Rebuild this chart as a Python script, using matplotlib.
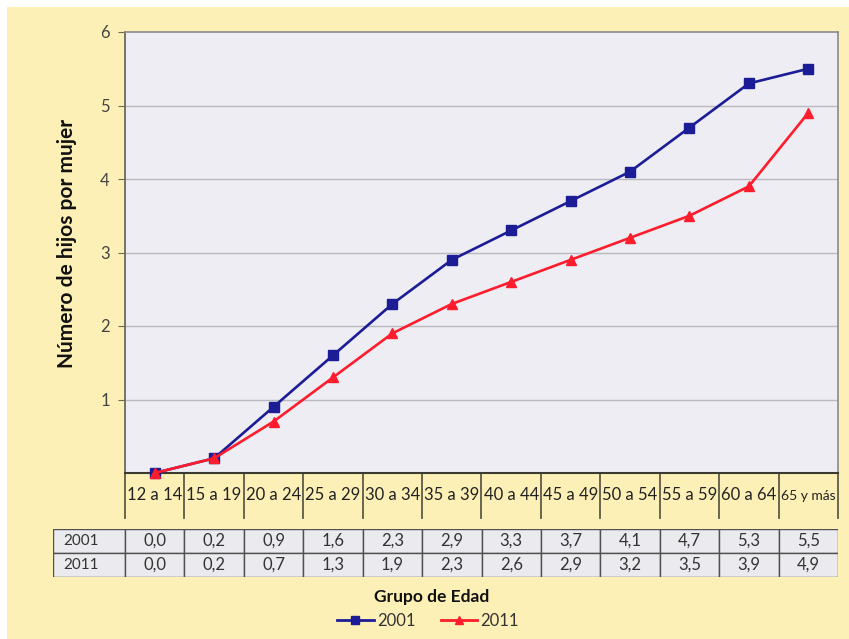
import matplotlib
matplotlib.use("Agg")
import matplotlib.pyplot as plt
from matplotlib.patches import Rectangle
from matplotlib.lines import Line2D

categories = ["12 a 14", "15 a 19", "20 a 24", "25 a 29", "30 a 34", "35 a 39",
              "40 a 44", "45 a 49", "50 a 54", "55 a 59", "60 a 64", "65 y más"]
series_names = ["2001", "2011"]
values_2001 = [0.0, 0.2, 0.9, 1.6, 2.3, 2.9, 3.3, 3.7, 4.1, 4.7, 5.3, 5.5]
values_2011 = [0.0, 0.2, 0.7, 1.3, 1.9, 2.3, 2.6, 2.9, 3.2, 3.5, 3.9, 4.9]
yticks = [1, 2, 3, 4, 5, 6]

plt.rcParams['font.family'] = ['Lato', 'DejaVu Sans']

W, H = 849, 639
fig = plt.figure(figsize=(W / 100, H / 100), dpi=100)
fig.patch.set_facecolor("#ffffff")
# yellow panel
fig.patches.append(Rectangle((7 / W, 0), 1 - 7 / W, 1 - 7 / H, transform=fig.transFigure,
                             facecolor="#fcf0b6", edgecolor="none", zorder=-10))

plotbg = "#ededf3"
spine_c = "#6e6a58"
c2001 = "#1c1c96"
c2011 = "#ff1c2c"

x0, x1 = 125, 838
ax = fig.add_axes([x0 / W, 1 - 473 / H, (x1 - x0) / W, (473 - 32) / H])
ax.set_facecolor(plotbg)
n = len(categories)
xs = list(range(n))
ax.set_xlim(-0.5, n - 0.5)
ax.set_ylim(0, 6)

ax.plot(xs, values_2001, color=c2001, lw=1.9, marker="s", ms=6.5, zorder=4, clip_on=False)
ax.plot(xs, values_2011, color=c2011, lw=1.9, marker="^", ms=7, zorder=5, clip_on=False)

ax.set_yticks(yticks)
ax.set_yticklabels([str(t) for t in yticks], fontsize=12, color="#444444")
ax.tick_params(axis="y", length=5, color=spine_c, pad=6)
ax.set_xticks([])
for v in yticks[:-1]:
    ax.axhline(v, color="#b9b9bd", lw=1, zorder=1)
for s in ["top", "right"]:
    ax.spines[s].set_color("#8a8a8a")
    ax.spines[s].set_linewidth(1.2)
ax.spines["left"].set_color(spine_c)
ax.spines["left"].set_linewidth(1.3)
ax.spines["bottom"].set_color("#3a3a30")
ax.spines["bottom"].set_linewidth(1.5)
ax.set_ylabel("Número de hijos por mujer", fontsize=15, fontweight="bold",
              color="#111111")
ax.yaxis.set_label_coords((77 - x0) / (x1 - x0), (473 - 243) / (473 - 32))

# category boxes below the axis
tr = ax.get_xaxis_transform()
box_h = (518 - 473) / (473 - 32)
for i in range(n + 1):
    ax.add_line(Line2D([i - 0.5, i - 0.5], [0, -box_h], transform=tr, color="#5e5a48",
                       lw=1.3, clip_on=False))
for i, c in enumerate(categories):
    fs = 10 if c == "65 y más" else 12
    ax.text(i, -0.5 * box_h, c, transform=tr, ha="center", va="center",
            fontsize=fs, color="#222222", clip_on=False)

# data table
tx0 = 53
tax = fig.add_axes([tx0 / W, 1 - 577 / H, (x1 - tx0) / W, (577 - 529) / H])
tax.set_xlim(tx0, x1)
tax.set_ylim(0, 2)
tax.axis("off")
col_w = (x1 - x0) / n
rows = [values_2001, values_2011]
for r, (name, vals) in enumerate(zip(series_names, rows)):
    yb = 1 - r
    tax.add_patch(Rectangle((tx0, yb), x0 - tx0, 1, facecolor="#ebebef",
                            edgecolor="#505050", lw=1))
    tax.text(tx0 + 10, yb + 0.5, name, ha="left", va="center", fontsize=11, color="#333333")
    for i, v in enumerate(vals):
        xl = x0 + i * col_w
        tax.add_patch(Rectangle((xl, yb), col_w, 1, facecolor="#ebebef",
                                edgecolor="#505050", lw=1))
        tax.text(xl + col_w / 2, yb + 0.5, f"{v:.1f}".replace(".", ","), ha="center",
                 va="center", fontsize=12, color="#333333")

fig.text(432 / W, 1 - 597 / H, "Grupo de Edad", ha="center", va="center",
         fontsize=12.5, fontweight="bold", color="#111111")

handles = [Line2D([], [], color=c2001, lw=2, marker="s", ms=6),
           Line2D([], [], color=c2011, lw=2, marker="^", ms=6)]
fig.legend(handles, series_names, loc="center", bbox_to_anchor=(428 / W, 1 - 621 / H),
           ncol=2, frameon=False, fontsize=12, handlelength=2.2, handletextpad=0.2,
           columnspacing=1.5, labelcolor="#333333")

fig.savefig("out.png", dpi=100, facecolor=fig.get_facecolor())
